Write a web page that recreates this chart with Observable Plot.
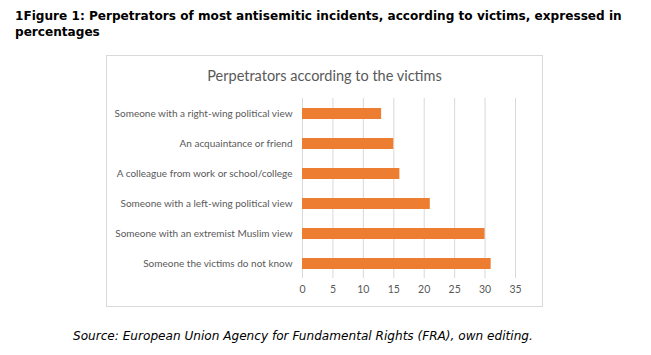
<!DOCTYPE html>
<html>
<head>
<meta charset="utf-8">
<script src="https://cdn.jsdelivr.net/npm/d3@7"></script>
<script src="https://cdn.jsdelivr.net/npm/@observablehq/plot@0.6"></script>
<style>
  html, body { margin: 0; padding: 0; background: #fff; width: 651px; height: 355px; overflow: hidden; }
  #head { position: absolute; left: 15px; top: 8px; width: 630px; font-family: "DejaVu Sans", Verdana, sans-serif; font-weight: bold; font-size: 12.1px; line-height: 16px; color: #000; }
  #box { position: absolute; left: 106px; top: 55px; width: 435px; height: 250px; border: 1px solid #d9d9d9; }
  #ctitle { position: absolute; left: 0; top: 11px; width: 100%; text-align: center; font-family: Lato, "Open Sans", sans-serif; font-size: 14.5px; color: #595959; }
  #chart { position: absolute; left: 0; top: 32px; }
  #cap { position: absolute; left: 73px; top: 329px; font-family: "DejaVu Sans", Verdana, sans-serif; font-style: italic; font-size: 12.1px; color: #000; }
</style>
</head>
<body>
<div id="head">1Figure 1: Perpetrators of most antisemitic incidents, according to victims, expressed in percentages</div>
<div id="box">
  <div id="ctitle">Perpetrators according to the victims</div>
  <div id="chart"></div>
</div>
<div id="cap">Source: European Union Agency for Fundamental Rights (FRA), own editing.</div>
<script>
const categories = [
  "Someone with a right-wing political view",
  "An acquaintance or friend",
  "A colleague from work or school/college",
  "Someone with a left-wing political view",
  "Someone with an extremist Muslim view",
  "Someone the victims do not know"
];
const values = [13, 15, 16, 21, 30, 31];
const xTicks = [0, 5, 10, 15, 20, 25, 30, 35];

const data = categories.map((c, i) => ({label: c, value: values[i]}));

const chart = Plot.plot({
  width: 435,
  height: 218,
  marginLeft: 195,
  marginRight: 27,
  marginTop: 10,
  marginBottom: 28,
  style: {fontFamily: "Lato, 'Open Sans', sans-serif", fontSize: "10px", color: "#595959", background: "transparent"},
  x: {domain: [0, 35], ticks: xTicks, label: null},
  y: {domain: categories, paddingInner: 0.64, paddingOuter: 0.32, label: null},
  marks: [
    Plot.gridX(xTicks, {stroke: "#d9d9d9", strokeOpacity: 1, strokeWidth: 1}),
    Plot.barX(data, {x: "value", y: "label", fill: "#ED7D31"}),
    Plot.axisX({ticks: xTicks, tickSize: 0, tickPadding: 7, fill: "#595959", fontSize: 10.5, label: null}),
    Plot.axisY({tickSize: 0, tickPadding: 10, fill: "#595959", fontSize: 10, label: null})
  ]
});
document.getElementById("chart").appendChild(chart);
</script>
</body>
</html>
